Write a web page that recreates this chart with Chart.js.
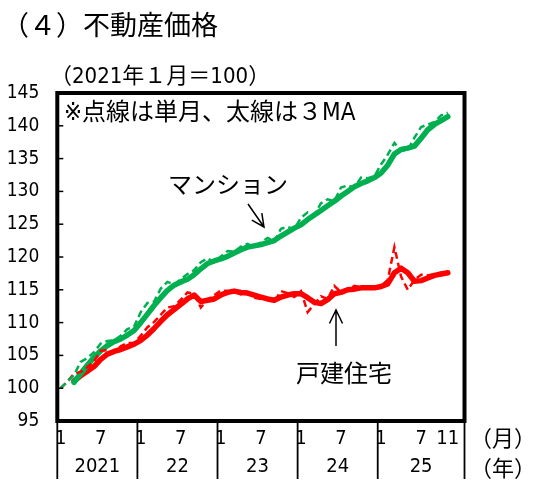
<!DOCTYPE html>
<html>
<head>
<meta charset="utf-8">
<title>不動産価格</title>
<script src="https://cdn.jsdelivr.net/npm/chart.js@4.4.1/dist/chart.umd.min.js"></script>
<style>
  html, body { margin: 0; padding: 0; background: #fff; }
  #wrap { width: 534px; height: 487px; }
</style>
</head>
<body>
<div id="wrap"><canvas id="priceChart" width="534" height="487"></canvas></div>
<script>
// 2021年1月（index 0）〜 2025年11月（index 58）、2021年1月＝100
const monthTicks = [0, 6, 12, 18, 24, 30, 36, 42, 48, 54, 58];
const monthTickLabels = ['1', '7', '1', '7', '1', '7', '1', '7', '1', '7', '11'];
const yearLabels = ['2021', '22', '23', '24', '25'];
const yearBounds = [-0.5, 11.5, 23.5, 35.5, 47.5, 60.5];
const yTicks = [95, 100, 105, 110, 115, 120, 125, 130, 135, 140, 145];

// マンション
const condoMonthly = [
  100.0, 101.0, 102.0, 104.0, 104.6, 105.5, 106.8, 107.2, 107.3, 108.0,
  109.0, 109.4, 111.6, 113.0, 113.2, 115.2, 116.2, 115.8, 116.6, 117.4,
  118.0, 119.2, 119.8, 119.2, 120.1, 120.9, 120.8, 121.6, 122.0, 121.5,
  122.2, 122.9, 122.4, 124.3, 124.6, 124.2, 126.0, 126.8, 126.4, 128.2,
  128.8, 128.5, 130.6, 130.9, 130.6, 132.1, 132.0, 132.3, 134.1, 135.6,
  137.4, 136.2, 136.3, 138.2, 139.8, 140.2, 140.6, 141.6, 142.0
];
const condo3MA = [
  null, null, 100.9, 102.2, 103.5, 104.7, 105.7, 106.5, 107.1, 107.5,
  108.1, 108.8, 110.0, 111.3, 112.6, 113.8, 114.9, 115.7, 116.2, 116.6,
  117.3, 118.2, 119.0, 119.4, 119.7, 120.1, 120.6, 121.1, 121.5, 121.7,
  121.9, 122.2, 122.5, 123.2, 123.8, 124.4, 124.9, 125.7, 126.4, 127.1,
  127.8, 128.5, 129.3, 130.0, 130.7, 131.2, 131.6, 132.1, 132.8, 134.0,
  135.7, 136.4, 136.6, 136.9, 138.1, 139.4, 140.2, 140.8, 141.4
];

// 戸建住宅
const houseMonthly = [
  100.0, 101.0, 102.2, 102.5, 103.2, 104.1, 105.7, 105.8, 105.4, 106.4,
  106.9, 106.9, 108.0, 109.3, 110.1, 111.2, 112.3, 112.5, 113.5, 114.6,
  114.4, 112.3, 113.5, 114.2, 114.9, 114.8, 114.7, 114.3, 114.6, 113.8,
  113.6, 113.5, 113.2, 114.8, 114.5, 113.9, 114.8, 111.6, 112.8, 114.0,
  113.6, 115.6, 114.6, 114.9, 115.6, 115.4, 115.2, 115.4, 115.6, 116.5,
  121.5, 117.0, 115.0, 116.5, 117.3, 117.2, 117.4, 117.6, 117.8
];
const house3MA = [
  null, null, 101.1, 101.9, 102.6, 103.3, 104.4, 105.2, 105.6, 105.9,
  106.3, 106.7, 107.3, 108.1, 109.1, 110.2, 111.2, 112.0, 112.8, 113.6,
  114.2, 113.2, 113.4, 113.6, 114.2, 114.6, 114.8, 114.6, 114.5, 114.2,
  113.9, 113.6, 113.4, 113.9, 114.2, 114.4, 114.4, 113.8, 113.1, 112.9,
  113.5, 114.4, 114.6, 115.0, 115.1, 115.3, 115.3, 115.3, 115.5, 115.9,
  117.6, 118.3, 117.6, 116.3, 116.4, 116.8, 117.2, 117.4, 117.6
];

const GREEN = 'rgb(0, 176, 80)';
const RED = 'rgb(255, 0, 0)';
const NARROW = "'Liberation Sans Narrow', 'DejaVu Sans Condensed', sans-serif";
const NARROW_JP = "'Liberation Sans Narrow', 'DejaVu Sans Condensed', 'Noto Sans CJK JP', sans-serif";
const JP = "'Noto Sans CJK JP', sans-serif";

function toPoints(arr) {
  return arr.map((v, i) => ({ x: i, y: v }));
}

function arrow(ctx, x1, y1, x2, y2, head) {
  const ang = Math.atan2(y2 - y1, x2 - x1);
  ctx.beginPath();
  ctx.moveTo(x1, y1);
  ctx.lineTo(x2, y2);
  ctx.moveTo(x2 - head * Math.cos(ang - 0.45), y2 - head * Math.sin(ang - 0.45));
  ctx.lineTo(x2, y2);
  ctx.lineTo(x2 - head * Math.cos(ang + 0.45), y2 - head * Math.sin(ang + 0.45));
  ctx.stroke();
}

const frameAndNotes = {
  id: 'frameAndNotes',
  afterDraw(chart) {
    const { ctx, chartArea: a, scales: { x, y } } = chart;
    ctx.save();
    ctx.strokeStyle = '#000';
    ctx.fillStyle = '#000';

    // 目盛り（内向き）
    ctx.lineWidth = 1.5;
    yTicks.forEach(v => {
      const py = y.getPixelForValue(v);
      ctx.beginPath();
      ctx.moveTo(a.left, py);
      ctx.lineTo(a.left + 6, py);
      ctx.stroke();
    });

    // 年の区切り線
    ctx.lineWidth = 1.8;
    yearBounds.forEach(v => {
      const px = x.getPixelForValue(v);
      ctx.beginPath();
      ctx.moveTo(px, a.bottom);
      ctx.lineTo(px, 479);
      ctx.stroke();
    });

    // 年ラベル
    ctx.font = '20px ' + NARROW;
    ctx.textAlign = 'center';
    ctx.textBaseline = 'middle';
    yearLabels.forEach((lab, i) => {
      const mid = (yearBounds[i] + yearBounds[i + 1]) / 2;
      ctx.fillText(lab, x.getPixelForValue(mid), 467);
    });

    // 枠
    ctx.lineWidth = 4;
    ctx.strokeRect(a.left, a.top, a.right - a.left, a.bottom - a.top);

    // テキスト
    ctx.textAlign = 'left';
    ctx.font = '27px ' + JP;
    ctx.fillText('（４）不動産価格', 2, 25);

    ctx.font = '22px ' + NARROW_JP;
    ctx.fillText('（2021年１月＝100）', 50, 77);

    ctx.font = '24px ' + NARROW_JP;
    ctx.fillText('※点線は単月、太線は３MA', 64, 114);

    ctx.font = '24px ' + JP;
    ctx.fillText('マンション', 168, 184);
    ctx.fillText('戸建住宅', 296, 373);

    ctx.font = '22px ' + JP;
    ctx.fillText('（月）', 470, 438);
    ctx.fillText('（年）', 470, 468);

    // 矢印
    ctx.lineWidth = 1.5;
    arrow(ctx, 248, 204, 264, 227, 14);
    arrow(ctx, 336, 346, 336, 310, 15);

    ctx.restore();
  }
};

new Chart(document.getElementById('priceChart'), {
  type: 'line',
  data: {
    datasets: [
      {
        label: 'マンション（単月）',
        data: toPoints(condoMonthly),
        borderColor: GREEN,
        borderWidth: 2.5,
        borderDash: [7, 4],
        order: 1
      },
      {
        label: '戸建住宅（単月）',
        data: toPoints(houseMonthly),
        borderColor: RED,
        borderWidth: 2.5,
        borderDash: [7, 4],
        order: 1
      },
      {
        label: 'マンション（3MA）',
        data: toPoints(condo3MA),
        borderColor: GREEN,
        borderWidth: 5.5,
        borderCapStyle: 'round',
        borderJoinStyle: 'round',
        order: 2
      },
      {
        label: '戸建住宅（3MA）',
        data: toPoints(house3MA),
        borderColor: RED,
        borderWidth: 5.5,
        borderCapStyle: 'round',
        borderJoinStyle: 'round',
        order: 2
      }
    ]
  },
  options: {
    responsive: false,
    animation: false,
    layout: { padding: { top: 93, right: 69.5, bottom: 0, left: 0 } },
    elements: { point: { radius: 0 }, line: { tension: 0 } },
    plugins: { legend: { display: false }, tooltip: { enabled: false } },
    scales: {
      x: {
        type: 'linear',
        min: -0.5,
        max: 60.5,
        afterBuildTicks: s => { s.ticks = monthTicks.map(v => ({ value: v })); },
        afterFit: s => { s.height = 66; },
        grid: { display: false, drawTicks: false },
        border: { display: false },
        ticks: {
          autoSkip: false,
          maxRotation: 0,
          padding: 6,
          color: '#000',
          font: { family: NARROW, size: 20 },
          callback: (v, i) => monthTickLabels[i]
        }
      },
      y: {
        min: 95,
        max: 145,
        afterBuildTicks: s => { s.ticks = yTicks.map(v => ({ value: v })); },
        afterFit: s => { s.width = 57.3; },
        grid: { display: false, drawTicks: false },
        border: { display: false },
        ticks: {
          padding: 18,
          color: '#000',
          font: { family: NARROW, size: 19 }
        }
      }
    }
  },
  plugins: [frameAndNotes]
});
</script>
</body>
</html>
